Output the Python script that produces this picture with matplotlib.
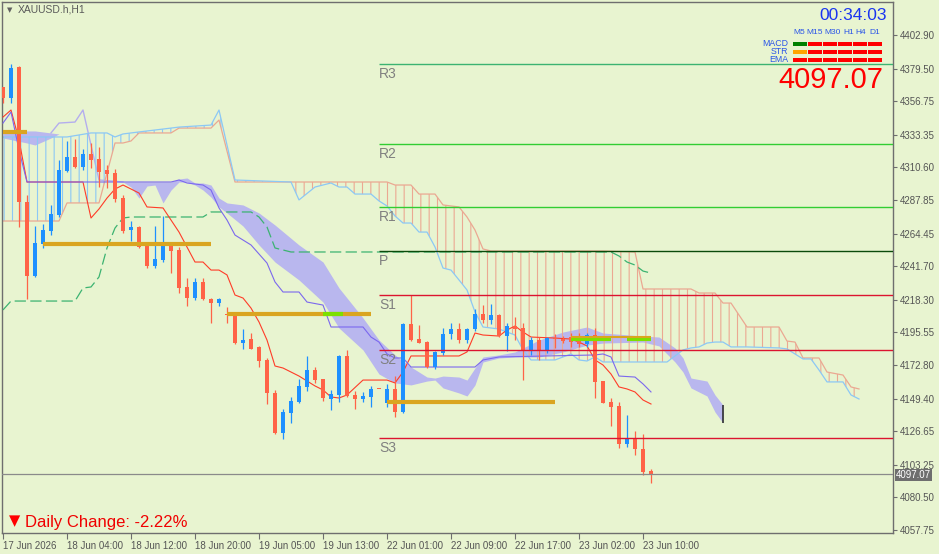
import numpy as np
import matplotlib.pyplot as plt
from matplotlib.patches import Rectangle
from matplotlib.transforms import blended_transform_factory

plt.rcParams['font.family'] = ['Liberation Sans', 'DejaVu Sans']
plt.rcParams['hatch.linewidth'] = 0.8

# XAUUSD.h H1 candles, 17 Jun 20:00 -> 23 Jun 11:00
opens = [4366.6, 4359.0, 4380.6, 4286.5, 4234.9, 4257.2, 4266.2, 4277.4, 4308.1, 4317.8,
         4310.9, 4319.9, 4316.4, 4308.8, 4306.7, 4289.2, 4266.9, 4269.0, 4255.8, 4241.8,
         4246.0, 4257.2, 4253.0, 4227.2, 4219.5, 4230.7, 4218.8, 4216.0, 4208.4, 4207.7,
         4188.1, 4190.9, 4185.4, 4176.3, 4153.3, 4125.4, 4139.3, 4147.0, 4157.5, 4169.3,
         4163.0, 4149.1, 4151.9, 4179.1, 4151.9, 4149.1, 4150.5, 4156.1, 4146.3, 4156.1,
         4140.0, 4201.4, 4190.9, 4188.8, 4171.4, 4181.2, 4194.4, 4197.9, 4190.2, 4197.9,
         4208.4, 4204.2, 4207.7, 4193.0, 4200.0, 4198.6, 4182.6, 4190.2, 4182.6, 4191.6,
         4190.9, 4192.3, 4189.5, 4187.4, 4193.7, 4161.6, 4147.0, 4144.2, 4117.7, 4121.9,
         4114.2, 4098.9]
highs = [4366.6, 4382.7, 4381.3, 4291.3, 4269.7, 4271.1, 4284.4, 4315.7, 4329.0, 4330.4,
         4323.4, 4327.6, 4324.8, 4312.3, 4309.5, 4291.3, 4273.2, 4269.7, 4256.5, 4269.7,
         4276.7, 4257.9, 4255.1, 4233.5, 4233.5, 4233.5, 4219.5, 4219.5, 4213.2, 4208.4,
         4197.9, 4195.1, 4186.1, 4177.7, 4155.4, 4142.1, 4150.5, 4163.0, 4179.1, 4171.4,
         4163.0, 4155.4, 4179.8, 4183.3, 4154.7, 4154.0, 4158.2, 4156.1, 4159.6, 4165.1,
         4202.1, 4221.6, 4200.7, 4189.5, 4182.6, 4198.6, 4202.1, 4202.1, 4198.6, 4211.8,
         4214.6, 4215.3, 4208.4, 4202.1, 4206.3, 4202.1, 4192.3, 4192.3, 4192.3, 4194.4,
         4193.0, 4195.1, 4195.1, 4195.1, 4198.6, 4161.6, 4149.8, 4147.0, 4137.9, 4126.8,
         4124.7, 4100.3]
lows = [4355.5, 4355.5, 4269.0, 4218.8, 4234.2, 4254.4, 4263.4, 4276.0, 4307.4, 4310.2,
        4308.8, 4310.2, 4296.9, 4296.2, 4286.5, 4264.8, 4259.3, 4254.4, 4240.4, 4240.4,
        4244.6, 4237.0, 4223.0, 4213.9, 4218.1, 4218.1, 4202.1, 4213.9, 4202.1, 4187.4,
        4184.0, 4184.0, 4171.4, 4145.6, 4124.7, 4121.2, 4132.4, 4146.3, 4154.7, 4160.3,
        4147.7, 4141.4, 4147.0, 4150.5, 4142.1, 4147.0, 4143.5, 4156.1, 4143.5, 4136.5,
        4139.3, 4189.5, 4188.1, 4170.7, 4170.0, 4179.8, 4190.9, 4188.1, 4188.1, 4196.5,
        4202.1, 4201.4, 4192.3, 4182.6, 4190.2, 4162.3, 4179.8, 4176.3, 4181.2, 4184.7,
        4188.1, 4185.4, 4185.4, 4185.4, 4149.8, 4146.3, 4130.3, 4114.9, 4115.6, 4110.1,
        4096.1, 4090.5]
closes = [4359.0, 4379.9, 4286.5, 4234.9, 4257.9, 4266.9, 4278.1, 4308.8, 4317.8, 4310.9,
          4319.9, 4315.7, 4307.4, 4306.0, 4288.5, 4266.2, 4269.0, 4255.1, 4241.8, 4246.7,
          4257.2, 4252.3, 4226.5, 4219.5, 4230.7, 4218.8, 4216.0, 4218.8, 4207.7, 4188.1,
          4190.2, 4184.0, 4175.6, 4153.3, 4125.4, 4140.0, 4147.7, 4158.2, 4169.3, 4162.3,
          4149.8, 4152.6, 4179.1, 4151.2, 4149.1, 4151.2, 4156.1, 4156.1, 4156.1, 4140.0,
          4201.4, 4190.2, 4188.1, 4171.4, 4181.9, 4194.4, 4197.9, 4190.2, 4197.9, 4208.4,
          4204.2, 4207.7, 4193.0, 4200.0, 4197.9, 4183.3, 4190.2, 4182.6, 4191.6, 4190.9,
          4189.5, 4188.8, 4187.4, 4193.7, 4161.0, 4146.3, 4143.5, 4117.7, 4121.2, 4114.2,
          4098.2, 4097.07]

time_ticks = [0, 8, 16, 24, 32, 40, 48, 56, 64, 72, 80]
time_labels = ['17 Jun 2026', '18 Jun 04:00', '18 Jun 12:00', '18 Jun 20:00', '19 Jun 05:00',
               '19 Jun 13:00', '22 Jun 01:00', '22 Jun 09:00', '22 Jun 17:00', '23 Jun 02:00',
               '23 Jun 10:00']
price_ticks = [4402.90, 4379.50, 4356.75, 4333.35, 4310.60, 4287.85, 4264.45, 4241.70,
               4218.30, 4195.55, 4172.80, 4149.40, 4126.65, 4103.25, 4080.50, 4057.75]

# ichimoku lines (bar index, price)
tenkan_x = [0, 1, 2, 3, 10, 11, 12, 13, 14, 15, 17, 18, 20, 22, 24, 25, 26, 27, 28, 29,
            30, 31, 32, 33, 34, 35, 37, 39, 40, 41, 42, 43, 45, 48, 49, 50, 51, 57, 58, 59,
            60, 62, 63, 64, 65, 66, 69, 71, 72, 73, 74, 75, 76, 77, 78, 79, 80, 81]
tenkan_y = [4345.7, 4350.6, 4329.7, 4300.4, 4300.4, 4275.3, 4281.6, 4289.2, 4295.5, 4298.3,
            4292.7, 4283.0, 4282.3, 4265.5, 4244.6, 4244.6, 4239.0, 4239.0, 4235.6, 4221.6,
            4219.5, 4212.5, 4202.8, 4190.2, 4172.1, 4170.7, 4165.1, 4158.2, 4155.4, 4150.5,
            4149.8, 4151.9, 4162.3, 4162.3, 4160.3, 4167.9, 4179.1, 4179.1, 4181.9, 4195.1,
            4193.7, 4193.0, 4197.2, 4200.0, 4195.8, 4192.3, 4191.6, 4190.9, 4188.8, 4186.1,
            4176.3, 4172.8, 4166.5, 4157.5, 4156.1, 4154.0, 4148.4, 4145.6]
kijun_x = [0, 1, 2, 3, 21, 22, 23, 25, 26, 27, 28, 29, 31, 33, 34, 35, 37, 38, 40, 41,
           45, 46, 47, 48, 49, 50, 51, 59, 60, 62, 74, 75, 76, 77, 79, 80, 81]
kijun_y = [4341.5, 4349.2, 4322.7, 4300.4, 4300.4, 4301.8, 4299.7, 4298.3, 4294.8, 4282.3,
           4273.9, 4263.4, 4256.5, 4243.9, 4230.7, 4223.7, 4223.7, 4216.7, 4214.6, 4199.3,
           4199.3, 4192.3, 4188.8, 4180.5, 4177.7, 4177.7, 4171.4, 4171.4, 4176.3, 4178.4,
           4179.8, 4180.5, 4178.4, 4165.1, 4164.4, 4159.6, 4154.0]

kumo_x = [0, 7, 8, 11, 12, 13, 14, 15, 16, 17, 21, 22, 24, 26, 27, 29, 36, 37, 39, 41,
          42, 43, 44, 46, 47, 48, 49, 50, 51, 52, 53, 54, 55, 56, 57, 58, 59, 60, 61, 62,
          64, 65, 66, 69, 70, 71, 72, 73, 74, 75, 79, 80, 83, 85, 86, 87, 88, 89, 90, 91,
          93, 97, 98, 99, 100, 101, 102, 103, 105, 106, 107]
span_a = [4273.2, 4273.2, 4285.8, 4285.8, 4285.8, 4306.7, 4327.6, 4327.6, 4329.0, 4334.6,
          4334.6, 4338.0, 4338.0, 4338.0, 4343.6, 4300.4, 4300.4, 4300.4, 4300.4, 4300.4,
          4300.4, 4300.4, 4300.4, 4300.4, 4300.4, 4300.4, 4298.3, 4298.3, 4298.3, 4292.0,
          4292.0, 4292.0, 4284.4, 4283.7, 4283.0, 4276.0, 4266.9, 4253.7, 4252.3, 4252.3,
          4252.3, 4252.3, 4252.3, 4252.3, 4252.3, 4252.3, 4252.3, 4252.3, 4252.3, 4252.3,
          4251.6, 4225.8, 4225.8, 4225.8, 4225.8, 4223.0, 4223.0, 4223.0, 4216.0, 4216.0,
          4199.3, 4199.3, 4189.5, 4188.8, 4177.7, 4177.7, 4177.7, 4167.9, 4165.8, 4157.5,
          4156.1]
span_b = [4331.8, 4331.8, 4331.8, 4334.6, 4334.6, 4334.6, 4331.8, 4333.9, 4334.6, 4335.3,
          4338.0, 4338.7, 4339.4, 4340.1, 4350.6, 4301.8, 4300.4, 4287.9, 4296.9, 4299.7,
          4296.9, 4296.9, 4292.0, 4292.0, 4287.2, 4283.7, 4276.7, 4271.8, 4271.8, 4265.5,
          4265.5, 4255.1, 4240.4, 4239.0, 4232.1, 4225.1, 4209.8, 4199.3, 4198.6, 4197.9,
          4193.7, 4183.3, 4176.3, 4176.3, 4178.4, 4180.5, 4176.3, 4175.6, 4178.4, 4174.9,
          4174.9, 4174.9, 4174.9, 4183.3, 4184.7, 4185.4, 4188.1, 4188.8, 4188.8, 4185.4,
          4185.4, 4184.7, 4184.0, 4180.5, 4177.0, 4177.0, 4169.3, 4161.0, 4161.0, 4151.9,
          4149.1]

# second (filled) cloud
band_x = [0, 3, 4, 6, 7, 15, 16, 17, 18, 19, 20, 21, 22, 23, 24, 25, 26, 27, 28, 30,
          32, 34, 37, 40, 42, 45, 47, 49, 51, 53, 54, 55, 57, 58, 59, 60, 62, 64, 67, 70,
          73, 75, 80, 82, 84, 85, 86, 88, 89, 90]
band_top = [4336.0, 4336.0, 4336.0, 4334.6, 4333.9, 4300.4, 4300.4, 4300.4, 4300.4, 4300.4,
            4300.4, 4300.4, 4302.5, 4303.2, 4299.7, 4299.7, 4298.3, 4289.2, 4285.8, 4284.4,
            4278.8, 4270.4, 4256.5, 4244.6, 4226.5, 4205.6, 4190.2, 4179.8, 4171.4, 4164.4,
            4163.7, 4165.1, 4164.4, 4162.3, 4170.7, 4178.4, 4179.8, 4181.9, 4190.2, 4195.8,
            4199.3, 4195.1, 4193.0, 4192.3, 4184.7, 4177.7, 4163.7, 4161.6, 4151.9, 4144.9]
band_bot = [4331.1, 4327.6, 4326.2, 4331.1, 4333.9, 4300.4, 4296.9, 4289.2, 4297.6, 4298.3,
            4285.8, 4294.8, 4300.4, 4300.4, 4298.3, 4294.8, 4289.9, 4283.0, 4278.8, 4269.7,
            4256.5, 4244.6, 4232.1, 4216.7, 4198.6, 4183.3, 4166.5, 4160.3, 4158.9, 4161.6,
            4162.3, 4156.8, 4153.3, 4151.2, 4158.9, 4174.9, 4177.7, 4178.4, 4178.4, 4181.9,
            4186.7, 4188.1, 4188.8, 4186.1, 4174.9, 4167.9, 4156.8, 4151.2, 4140.0, 4132.4]
thin_x = [6, 7, 9, 10, 11, 12, 15]
thin_y = [4334.6, 4341.5, 4342.2, 4350.6, 4326.2, 4301.8, 4300.4]

green_x = [0, 1, 9, 10, 11, 12, 13, 14, 15, 16, 25, 26, 31, 32, 33, 34, 36, 76, 77, 78,
           79, 80, 81]
green_y = [4211.2, 4217.4, 4217.4, 4226.5, 4227.2, 4234.2, 4254.4, 4268.3, 4275.3, 4276.0,
           4276.0, 4279.5, 4279.5, 4276.0, 4269.0, 4254.4, 4251.6, 4251.6, 4248.8, 4244.6,
           4242.5, 4238.3, 4236.9]

# pivots
pivot_names = ['R3', 'R2', 'R1', 'P', 'S1', 'S2', 'S3']
pivot_levels = [4382.7, 4326.9, 4283.0, 4252.3, 4221.6, 4183.3, 4121.9]
pivot_colors = ['#3CB371', '#32CD32', '#32CD32', '#0A4A0A', '#DC1430', '#DC1430', '#DC1430']
pivot_start = 47

gold_start = [0, 5, 28, 48, 71]
gold_end = [3, 26, 46, 69, 81]
gold_level = [4335.3, 4257.2, 4208.4, 4147.0, 4192.3]
lime_start = [40, 71, 78]
lime_end = [42.5, 76, 81]
lime_level = [4208.4, 4191.2, 4191.2]

last_price = 4097.07
daily_change = -2.22
timeframes = ['M5', 'M15', 'M30', 'H1', 'H4', 'D1']
signal_rows = ['MACD', 'STR', 'EMA']
signals = [[1, -1, -1, -1, -1, -1],
           [0, -1, -1, -1, -1, -1],
           [-1, -1, -1, -1, -1, -1]]

bg = '#E8F4D0'
salmon = '#EBA892'
lblue = '#8CC8F5'

fig = plt.figure(figsize=(9.39, 5.54), dpi=100, facecolor=bg)
ax = fig.add_axes([2/939, 21/554, 891/939, 531/554], facecolor=bg)
ax.set_xlim(-0.125, 111.25)
ax.set_ylim(4055.66, 4425.91)

# filled cloud
ax.fill_between(band_x, band_top, band_bot, color='#B9B7EE', linewidth=0, zorder=1)
ax.plot(thin_x, thin_y, color='#B4AEEE', lw=1.0, zorder=1.5)

# hatched kumo
kx = np.array(kumo_x)
sa = np.array(span_a)
sb = np.array(span_b)
ax.fill_between(kx, sa, sb, where=sa >= sb, interpolate=True, facecolor='none',
                edgecolor=salmon, hatch='||', linewidth=0, zorder=2)
ax.fill_between(kx, sa, sb, where=sa < sb, interpolate=True, facecolor='none',
                edgecolor=lblue, hatch='||', linewidth=0, zorder=2)
ax.plot(kumo_x, span_a, color=salmon, lw=0.9, zorder=2.5)
ax.plot(kumo_x, span_b, color=lblue, lw=0.9, zorder=2.5)

ax.plot(green_x, green_y, color='#3CB371', lw=0.9, dashes=(9, 3.5), zorder=3)
ax.plot(tenkan_x, tenkan_y, color='#FF3C28', lw=0.8, zorder=3)
ax.plot(kijun_x, kijun_y, color='#7B68EE', lw=0.8, zorder=3)
ax.vlines(90, 4132.4, 4144.9, color='#303030', lw=1.2, zorder=3)

# candles
o = np.array(opens)
h = np.array(highs)
l = np.array(lows)
c = np.array(closes)
idx = np.arange(len(c))
col = np.where(c > o, '#1E90FF', '#FF6347')
ax.vlines(idx, l, h, colors=col, lw=0.9, zorder=4)
ax.bar(idx, np.maximum(np.abs(c - o), 0.8), bottom=np.minimum(o, c), width=0.62,
       color=col, linewidth=0, zorder=4)

# horizontal segments
for s, e, v in zip(gold_start, gold_end, gold_level):
    thick = s < 70
    ax.hlines(v, s, e, color='#DAA520', lw=3.0 if thick else 1.5,
              zorder=5.0 if thick else 5.3)
ax.hlines(lime_level, lime_start, lime_end, color='#7CE000', lw=3.0, zorder=5.2)

# pivots
for name, lev, pc in zip(pivot_names, pivot_levels, pivot_colors):
    ax.hlines(lev, pivot_start, 111.25, color=pc, lw=1.0, zorder=5)
    ax.annotate(name, (pivot_start, lev), xytext=(0, -2), textcoords='offset points',
                ha='left', va='top', fontsize=10, color='#808080', zorder=5)

ax.axhline(last_price, color='#8A8A8A', lw=0.9, zorder=6)

# axes styling
for sp in ax.spines.values():
    sp.set_color('#6E6E6E')
    sp.set_linewidth(1.0)
ax.yaxis.tick_right()
ax.set_yticks(price_ticks)
ax.set_yticklabels([f'{v:.2f}' for v in price_ticks])
ax.set_xticks(time_ticks)
ax.set_xticklabels(time_labels, ha='left')
ax.tick_params(axis='y', direction='out', length=3, width=0.8, pad=2, labelsize=7,
               colors='#6E6E6E', labelcolor='#555555')
ax.tick_params(axis='x', direction='out', length=4, width=0.8, pad=1.5, labelsize=7,
               colors='#6E6E6E', labelcolor='#555555')

tr = blended_transform_factory(ax.transAxes, ax.transData)
ax.text(1.003, last_price - 0.8, f'{last_price:.2f}', transform=tr, ha='left', va='center',
        fontsize=7, color='white',
        bbox=dict(boxstyle='square,pad=0.12', fc='#6E6E6E', ec='none'), clip_on=False)


def fx(px):
    return px / 939


def fy(py):
    return 1 - py / 554


fig.text(fx(7), fy(10), '\u25bc', fontsize=5, color='#606060', family='DejaVu Sans',
         ha='left', va='center')
fig.text(fx(18), fy(10), 'XAUUSD.h,H1', fontsize=7.5, color='#5A5A5A', ha='left', va='center')

fig.text(fx(887), fy(15), '00:34:03', fontsize=12.5, color='#1A35F0', ha='right', va='center')
col_x = [799, 815, 833, 849, 861, 875]
for name, x in zip(timeframes, col_x):
    fig.text(fx(x), fy(33), name, fontsize=6, color='#2A55E8', ha='center', va='center')
row_y = [44, 51.5, 60]
cell_x = [793, 808, 823, 838, 853, 868]
sig_col = {1: '#008000', 0: '#FFA500', -1: '#FF0000'}
for r, (name, y) in enumerate(zip(signal_rows, row_y)):
    fig.text(fx(788), fy(y), name, fontsize=6.3, color='#2A55E8', ha='right', va='center')
    for x, s in zip(cell_x, signals[r]):
        fig.patches.append(Rectangle((fx(x), fy(y + 2)), 14 / 939, 4 / 554,
                                     transform=fig.transFigure, fc=sig_col[s], ec='none'))
fig.text(fx(883), fy(80), f'{last_price:.2f}', fontsize=21, color='#FF0000',
         ha='right', va='center')

fig.text(fx(9), fy(521), '\u25bc', fontsize=10.5, color='#FF0000', family='DejaVu Sans',
         ha='left', va='center')
fig.text(fx(25), fy(522), f'Daily Change: {daily_change:.2f}%', fontsize=12,
         color='#F00000', ha='left', va='center')

fig.savefig('out.png', dpi=100, facecolor=bg)
